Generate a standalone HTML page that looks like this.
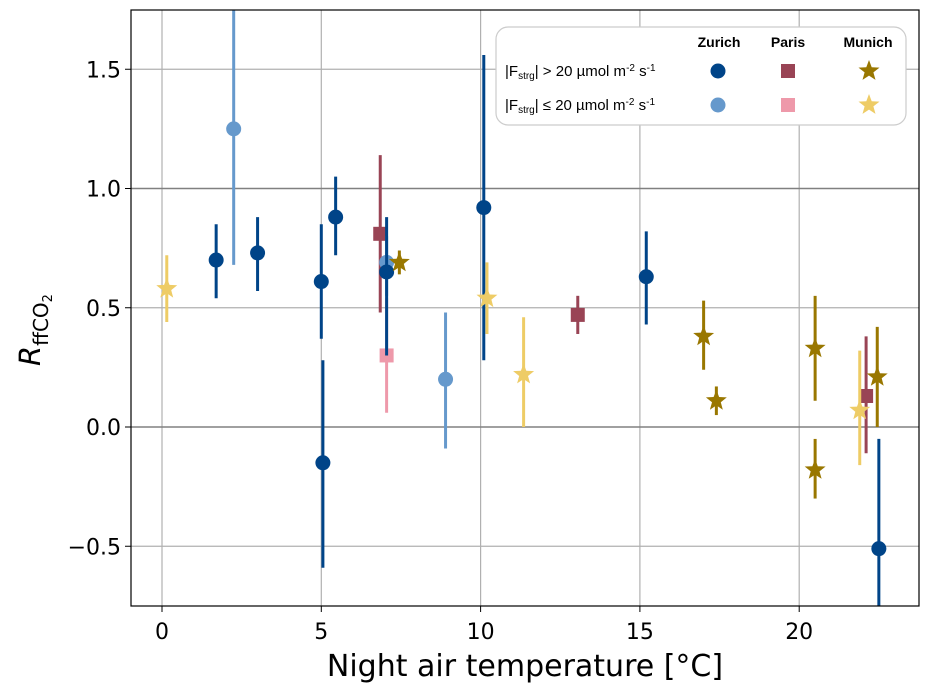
<!DOCTYPE html>
<html><head><meta charset="utf-8"><style>
body{margin:0;background:#fff;font-family:"DejaVu Sans",sans-serif}
svg text{font-family:"DejaVu Sans","Liberation Sans",sans-serif}
svg .leg text{font-family:"Liberation Sans",sans-serif}
</style></head><body>
<svg id="chart" width="929" height="695" viewBox="0 0 929 695" xmlns="http://www.w3.org/2000/svg">
<g id="grid"></g>
<g id="marks"></g>
<rect x="131" y="10" width="788" height="596" fill="none" stroke="#000" stroke-width="1.2"/>
<g id="ticks"></g>
<text x="525" y="676" font-size="30" text-anchor="middle">Night air temperature [°C]</text>
<text transform="translate(40,330) rotate(-90)" font-size="29" text-anchor="middle"><tspan font-style="italic">R</tspan><tspan font-size="20" dy="8">ffCO</tspan><tspan font-size="13" dy="4">2</tspan></text>
<g class="leg">
<rect x="496" y="27" width="410" height="98" rx="12" fill="#fff" stroke="#ccc" stroke-width="1.2"/>
<text x="719" y="47" font-size="14" font-weight="bold" text-anchor="middle">Zurich</text>
<text x="788" y="47" font-size="14" font-weight="bold" text-anchor="middle">Paris</text>
<text x="868" y="47" font-size="14" font-weight="bold" text-anchor="middle">Munich</text>
<text x="505" y="76" font-size="15">|F<tspan font-size="10" dy="3">strg</tspan><tspan dy="-3">| &gt; 20 µmol m</tspan><tspan font-size="10" dy="-5">-2</tspan><tspan dy="5"> s</tspan><tspan font-size="10" dy="-5">-1</tspan></text>
<text x="505" y="110" font-size="15">|F<tspan font-size="10" dy="3">strg</tspan><tspan dy="-3">| ≤ 20 µmol m</tspan><tspan font-size="10" dy="-5">-2</tspan><tspan dy="5"> s</tspan><tspan font-size="10" dy="-5">-1</tspan></text>
<g id="legmarks"></g>
</g>
</svg>
<script>
const NS="http://www.w3.org/2000/svg";
const xTicks=[0,5,10,15,20];
const yTicks=[-0.5,0,0.5,1,1.5];
const yTickLabels=["\u22120.5","0.0","0.5","1.0","1.5"];
const zurDarkX=[1.7,3.0,5.0,5.05,5.45,7.05,10.1,15.2,22.5];
const zurDarkY=[0.70,0.73,0.61,-0.15,0.88,0.65,0.92,0.63,-0.51];
const zurDarkLo=[0.54,0.57,0.37,-0.59,0.72,0.30,0.28,0.43,-0.80];
const zurDarkHi=[0.85,0.88,0.85,0.28,1.05,0.88,1.56,0.82,-0.05];
const zurLightX=[2.25,7.05,8.9];
const zurLightY=[1.25,0.69,0.20];
const zurLightLo=[0.68,0.55,-0.09];
const zurLightHi=[1.80,0.80,0.48];
const parDarkX=[6.85,13.05,22.1];
const parDarkY=[0.81,0.47,0.13];
const parDarkLo=[0.48,0.39,-0.11];
const parDarkHi=[1.14,0.55,0.38];
const parLightX=[7.05];
const parLightY=[0.30];
const parLightLo=[0.06];
const parLightHi=[0.54];
const munDarkX=[7.45,17.0,17.4,20.5,20.5,22.45];
const munDarkY=[0.69,0.38,0.11,0.33,-0.18,0.21];
const munDarkLo=[0.64,0.24,0.05,0.11,-0.30,0.00];
const munDarkHi=[0.74,0.53,0.17,0.55,-0.05,0.42];
const munLightX=[0.15,10.2,11.35,21.9];
const munLightY=[0.58,0.54,0.22,0.07];
const munLightLo=[0.44,0.39,0.00,-0.16];
const munLightHi=[0.72,0.69,0.46,0.32];

const sx=v=>162+v*31.86;
const sy=v=>427-v*238.5;
const X0=131,X1=919,Y0=10,Y1=606;
function mk(t,a,p){const e=document.createElementNS(NS,t);for(const k in a)e.setAttribute(k,a[k]);(p||document.getElementById('marks')).appendChild(e);return e;}
const grid=document.getElementById('grid'),ticks=document.getElementById('ticks');
xTicks.forEach(v=>{
  const l=mk('line',{x1:sx(v),x2:sx(v),y1:Y0,y2:Y1,stroke:'#b0b0b0','stroke-width':1.2},grid);
  
  
  mk('line',{x1:sx(v),x2:sx(v),y1:Y1,y2:Y1+6,stroke:'#000'},ticks);
  const t=mk('text',{x:sx(v),y:Y1+33,'font-size':22,'text-anchor':'middle'},ticks);t.textContent=v;
  
  
});
yTicks.forEach((v,i)=>{
  const dark=(v===0||v===1);
  const l=mk('line',{x1:X0,x2:X1,y1:sy(v),y2:sy(v),stroke:dark?'#808080':'#b0b0b0','stroke-width':dark?1.6:1.2},grid);
  
  
  mk('line',{x1:X0-6,x2:X0,y1:sy(v),y2:sy(v),stroke:'#000'},ticks);
  const t=mk('text',{x:X0-10,y:sy(v)+8,'font-size':22,'text-anchor':'end'},ticks);t.textContent=yTickLabels[i];
  
  
});
const clip=mk('clipPath',{id:'pc'},document.getElementById('chart'));
mk('rect',{x:X0,y:Y0,width:X1-X0,height:Y1-Y0},clip);
document.getElementById('marks').setAttribute('clip-path','url(#pc)');
function starPts(cx,cy,R){const r=R*0.42;let p=[];for(let i=0;i<10;i++){const a=-Math.PI/2+i*Math.PI/5,rr=i%2?r:R;p.push((cx+rr*Math.cos(a)).toFixed(1)+','+(cy+rr*Math.sin(a)).toFixed(1));}return p.join(' ');}
function marker(shape,cx,cy,col,parent){
  if(shape==='o')return mk('circle',{cx,cy,r:7.5,fill:col},parent);
  if(shape==='s')return mk('rect',{x:cx-7,y:cy-7,width:14,height:14,fill:col},parent);
  return mk('polygon',{points:starPts(cx,cy,11),fill:col},parent);
}
function series(name,xs,ys,lo,hi,col,shape){
  xs.forEach((x,i)=>{
    const e=mk('line',{x1:sx(x),x2:sx(x),y1:sy(lo[i]),y2:sy(hi[i]),stroke:col,'stroke-width':3});
    
    
    const m=marker(shape,sx(x),sy(ys[i]),col);
    
    
  });
}
series('paris-high',parDarkX,parDarkY,parDarkLo,parDarkHi,'#994455','s');
series('paris-low',parLightX,parLightY,parLightLo,parLightHi,'#ee99aa','s');
series('zurich-low',zurLightX,zurLightY,zurLightLo,zurLightHi,'#6699cc','o');
series('zurich-high',zurDarkX,zurDarkY,zurDarkLo,zurDarkHi,'#004488','o');
series('munich-low',munLightX,munLightY,munLightLo,munLightHi,'#eecc66','*');
series('munich-high',munDarkX,munDarkY,munDarkLo,munDarkHi,'#997700','*');
const lg=document.getElementById('legmarks');
[['o','#004488',718,71],['s','#994455',788,71],['*','#997700',869,71],['o','#6699cc',718,105],['s','#ee99aa',788,105],['*','#eecc66',869,105]].forEach(a=>{
  const m=marker(a[0],a[2],a[3],a[1],lg);
  
  
});
</script>
</body></html>
